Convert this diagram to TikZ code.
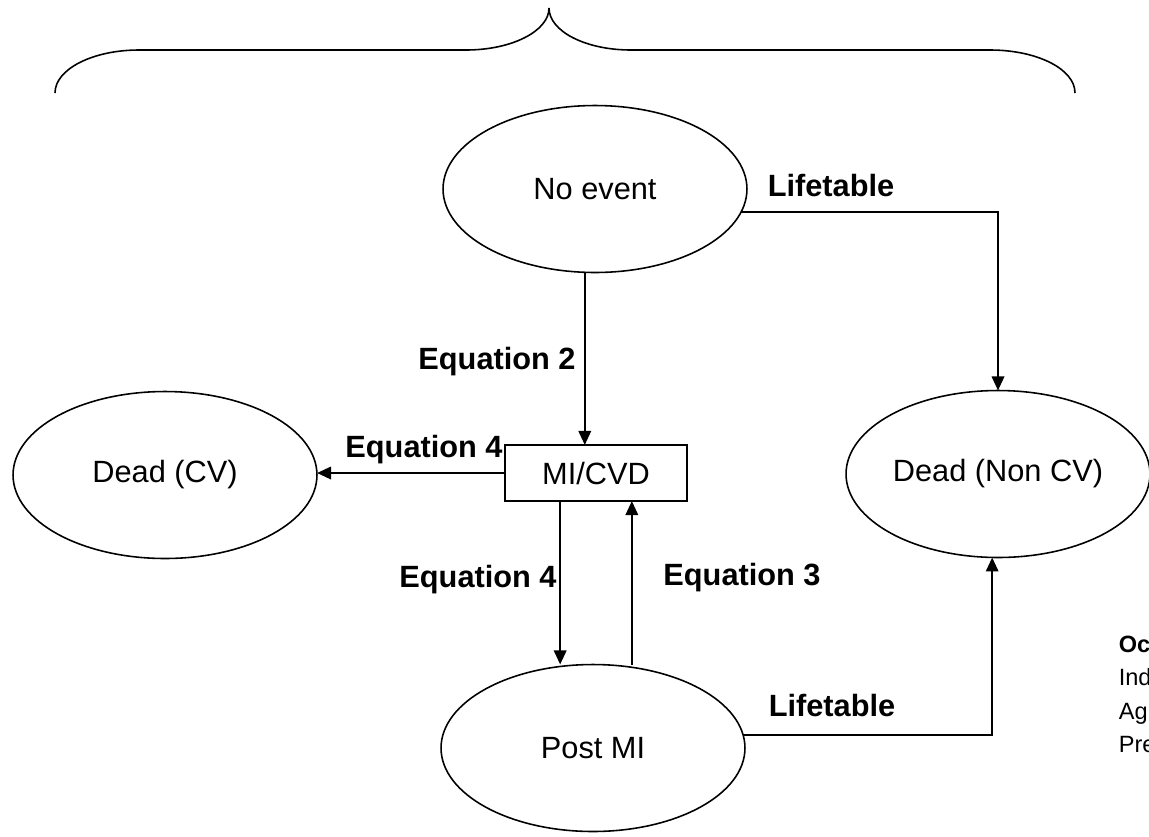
\documentclass[tikz,border=0pt]{standalone}
\usepackage{fontspec}
\setmainfont{Liberation Sans}
\usetikzlibrary{shapes.geometric,arrows.meta}
\tikzset{every picture/.style={line width=0.9pt}}
\tikzset{
  mstate/.style ={ellipse, draw=black, minimum width=6.08cm, minimum height=3.34cm,
                  inner sep=0pt, outer sep=0pt, font=\fontsize{17.5}{21}\selectfont},
  mbox/.style   ={rectangle, draw=black, minimum width=3.64cm, minimum height=1.12cm,
                  inner sep=0pt, outer sep=0pt, font=\fontsize{17.5}{21}\selectfont},
  mlink/.style  ={->, >={Triangle[length=8pt,width=7pt]}, line width=1.4pt},
  mlab/.style   ={anchor=base, inner sep=0pt, font=\bfseries\fontsize{17.5}{21}\selectfont},
}

\begin{document}
\begin{tikzpicture}[x=0.02cm, y=-0.02cm]
        \useasboundingbox (0,0) rectangle (1149,836);
        % parentesi graffa
        \draw (55,93) .. controls (55,69) and (93,50) .. (139,50) -- (466,50)
              .. controls (512,50) and (549,31) .. (549,8);
        \draw (549,8) .. controls (549,31) and (585,50) .. (631,50) -- (990,50)
              .. controls (1037,50) and (1075,69) .. (1075,93);
        % stati
        \node[mstate] (noev) at (595,189) {No event};
        \node[mstate] (deadcv) at (165,475) {Dead (CV)};
        \node[mstate] (deadnon) at (998,474) {Dead (Non CV)};
        \node[mstate] (postmi) at (593,748) {Post MI};
        \node[mbox] (mi) at (596,473) {MI/CVD};
        % transizioni
        \draw[mlink] (noev.-97) -- (noev.-97 |- mi.north);
        \draw[mlink] (mi.west) -- (mi.west -| deadcv.east);
        \draw[mlink] (mi.218) -- (mi.218 |- postmi.north);
        \draw[mlink] (mi.-38 |- postmi.north) -- (mi.-38);
        \draw[mlink] (noev.-9.4) -| (deadnon.north);
        \draw[mlink] (postmi.5) -| (deadnon.-94);
        % etichette
        \node[mlab] (lt1) at (831,196) {Lifetable};
        \node[mlab] (eq2) at (497,369) {Equation 2};
        \node[mlab] (eq4a) at (424,457) {Equation 4};
        \node[mlab] (eq4b) at (478,587) {Equation 4};
        \node[mlab] (eq3) at (742,585) {Equation 3};
        \node[mlab] (lt2) at (832,716) {Lifetable};
        % legenda
        \node[anchor=north west, align=left, inner sep=0pt,
              font=\fontsize{13.4}{19}\selectfont] (occ) at (1118,635)
              {\textbf{Oc}\\Ind\\Ag\\Pre};
\end{tikzpicture}
\end{document}
